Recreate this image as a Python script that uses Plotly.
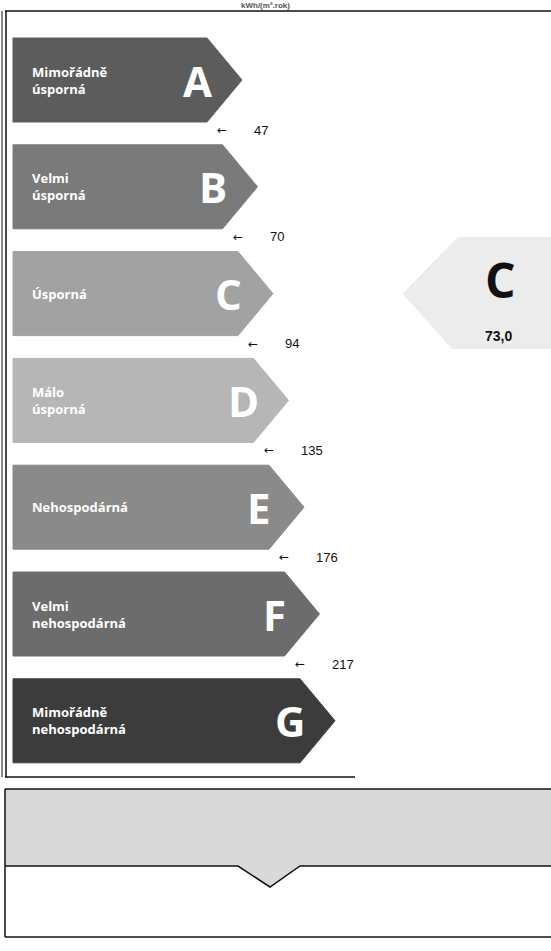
import plotly.graph_objects as go

# ---- data ----
classes = ["A", "B", "C", "D", "E", "F", "G"]
class_labels = ["Mimořádně<br>úsporná", "Velmi<br>úsporná", "Úsporná", "Málo<br>úsporná",
                "Nehospodárná", "Velmi<br>nehospodárná", "Mimořádně<br>nehospodárná"]
thresholds = [47, 70, 94, 135, 176, 217]
class_colors = ["#5c5c5c", "#7a7a7a", "#a2a2a2", "#b6b6b6", "#8a8a8a", "#6c6c6c", "#3c3c3c"]
result_class = "C"
result_value = "73,0"
unit_text = "kWh/(m².rok)"

W, H = 551, 951
fig = go.Figure()

# ---- layout geometry (styles) ----
left = 13
top0 = 38
step = 106.8
bar_h = 84
tip0 = 242
tip_step = 15.5
body_off = 35

for i, (c, lab, col) in enumerate(zip(classes, class_labels, class_colors)):
    y0 = top0 + i * step
    y1 = y0 + bar_h
    ym = (y0 + y1) / 2
    xt = tip0 + i * tip_step
    x1 = xt - body_off
    fig.add_trace(go.Scatter(
        x=[left, x1, xt, x1, left, left], y=[y0, y0, ym, y1, y1, y0],
        mode="lines", fill="toself", fillcolor=col,
        line=dict(color=col, width=1), hoverinfo="skip", showlegend=False))
    fig.add_annotation(x=left + 17, y=ym, text="<b>" + lab + "</b>", showarrow=False,
                       xanchor="left", yanchor="middle", align="left",
                       font=dict(family="Open Sans", size=13, color="white"))
    fig.add_annotation(x=x1 - 10, y=ym, text="<b>" + c + "</b>", showarrow=False,
                       xanchor="center", yanchor="middle",
                       font=dict(family="Open Sans", size=42, color="white"))
    if i < len(thresholds):
        ax = xt - 20
        fig.add_annotation(x=ax, y=y1 + 8, text="←", showarrow=False,
                           xanchor="center", yanchor="middle",
                           font=dict(family="DejaVu Sans", size=12, color="#111"))
        fig.add_annotation(x=ax + 30, y=y1 + 8, text=str(thresholds[i]), showarrow=False,
                           xanchor="left", yanchor="middle",
                           font=dict(family="Liberation Sans", size=13, color="#111"))

# ---- result indicator ----
ri = classes.index(result_class)
ry0 = top0 + ri * step
ry1 = ry0 + bar_h + 22
rym = top0 + ri * step + bar_h / 2
fig.add_trace(go.Scatter(
    x=[458, 560, 560, 452, 403, 458], y=[ry0 - 14, ry0 - 14, ry1 - 9, ry1 - 9, rym, ry0 - 14],
    mode="lines", fill="toself", fillcolor="#ececec", line=dict(color="#ececec", width=1),
    hoverinfo="skip", showlegend=False))
fig.add_annotation(x=500, y=rym - 14, text="<b>" + result_class + "</b>", showarrow=False,
                   xanchor="center", yanchor="middle",
                   font=dict(family="Open Sans", size=48, color="#111"))
fig.add_annotation(x=498, y=rym + 42, text="<b>" + result_value + "</b>", showarrow=False,
                   xanchor="center", yanchor="middle",
                   font=dict(family="Liberation Sans", size=14, color="#111"))

fig.add_annotation(x=265, y=5, text="<b>" + unit_text + "</b>", showarrow=False,
                   xanchor="center", yanchor="middle",
                   font=dict(family="Liberation Sans", size=8, color="#555"))

# ---- frame and bottom box (style) ----
shapes = [
    dict(type="line", x0=5, x1=551, y0=11, y1=11, line=dict(color="#111", width=1.5)),
    dict(type="line", x0=2, x1=2, y0=11, y1=777, line=dict(color="#111", width=1)),
    dict(type="line", x0=6, x1=6, y0=11, y1=777, line=dict(color="#111", width=1.5)),
    dict(type="line", x0=5, x1=355, y0=777, y1=777, line=dict(color="#111", width=1.5)),
    dict(type="path", path="M 5 789 L 551 789 L 551 866 L 300 866 L 270 887 L 238 866 L 5 866 Z",
         fillcolor="#d9d9d9", line=dict(width=0)),
    dict(type="line", x0=5, x1=551, y0=789, y1=789, line=dict(color="#111", width=1.5)),
    dict(type="path", path="M 5 866 L 238 866 L 270 887 L 300 866 L 551 866",
         line=dict(color="#111", width=1.5)),
    dict(type="line", x0=5, x1=5, y0=789, y1=937, line=dict(color="#111", width=1.5)),
    dict(type="line", x0=5, x1=551, y0=937, y1=937, line=dict(color="#111", width=1.5)),
]

fig.update_layout(
    width=W, height=H, margin=dict(l=0, r=0, t=0, b=0),
    paper_bgcolor="white", plot_bgcolor="white",
    xaxis=dict(range=[0, W], visible=False, fixedrange=True),
    yaxis=dict(range=[H, 0], visible=False, fixedrange=True),
    shapes=shapes, showlegend=False,
)

fig.write_html("out.html", config={"displayModeBar": False},
               post_script="document.body.style.margin='0px';document.body.style.overflow='hidden';")
